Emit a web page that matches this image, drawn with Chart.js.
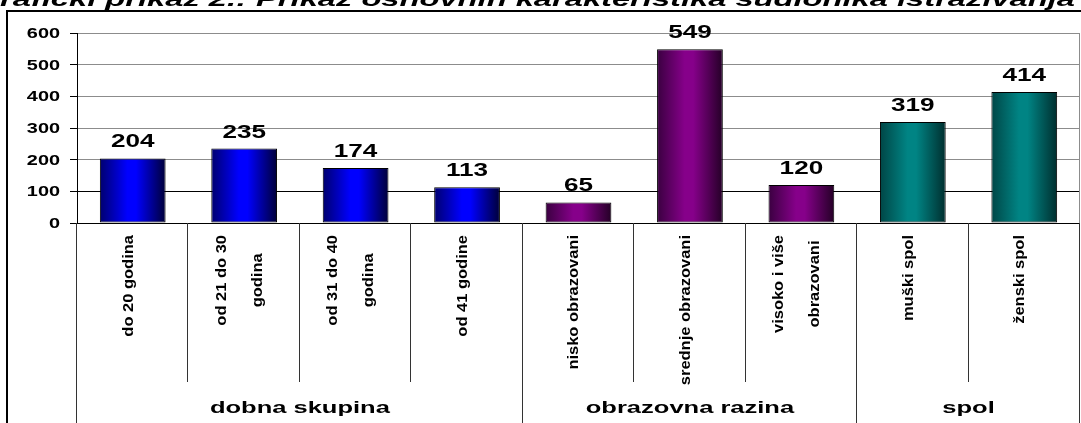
<!DOCTYPE html>
<html>
<head>
<meta charset="utf-8">
<script src="https://cdn.jsdelivr.net/npm/chart.js@4/dist/chart.umd.min.js"></script>
<style>
  html, body { margin: 0; padding: 0; background: #fff; overflow: hidden; }
  canvas { display: block; }
</style>
</head>
<body>
<canvas id="chart" width="1081" height="423"></canvas>
<script>
// data
const categories = [
    ['do 20 godina'],
    ['od 21 do 30', 'godina'],
    ['od 31 do 40', 'godina'],
    ['od 41 godine'],
    ['nisko obrazovani'],
    ['srednje obrazovani'],
    ['visoko i više', 'obrazovani'],
    ['muški spol'],
    ['ženski spol']
];
const values = [204, 235, 174, 113, 65, 549, 120, 319, 414];
const groups = ['dobna skupina', 'obrazovna razina', 'spol'];
const groupSizes = [4, 3, 2];
const yMin = 0;
const yMax = 600;
const yStep = 100;
const titleText = 'Grafički prikaz 2.: Prikaz osnovnih karakteristika sudionika istraživanja';

// gradient stops per group (dark edge, bright middle, darker edge)
const groupColors = [
    ['#00006e', '#0000ff', '#000038'],
    ['#3a0040', '#86008a', '#240026'],
    ['#004646', '#008484', '#002e2e']
];

const FONT = "'Liberation Sans', Arial, sans-serif";
const BAR_PCT = 0.59;

function groupOf(i) {
    let acc = 0;
    for (let g = 0; g < groupSizes.length; g++) {
        acc += groupSizes[g];
        if (i < acc) return g;
    }
    return groupSizes.length - 1;
}

function barFill(ctx) {
    const chart = ctx.chart;
    const i = ctx.dataIndex;
    const xs = chart.scales && chart.scales.x;
    if (i === undefined || !xs || !chart.chartArea) return '#0000ff';
    const cols = groupColors[groupOf(i)];
    const cx = xs.getPixelForValue(i);
    const w = xs.width / categories.length * BAR_PCT;
    const g = chart.ctx.createLinearGradient(cx - w / 2, 0, cx + w / 2, 0);
    g.addColorStop(0, cols[0]);
    g.addColorStop(0.42, cols[1]);
    g.addColorStop(0.55, cols[1]);
    g.addColorStop(1, cols[2]);
    return g;
}

// wide, squat text like the original export
function wideText(c, text, x, y, sx) {
    c.save();
    c.translate(x, y);
    c.scale(sx, 1);
    c.fillText(text, 0, 0);
    c.restore();
}

// frame + title, drawn under everything
const framePlugin = {
    id: 'frame',
    beforeDraw(chart) {
        const c = chart.ctx;
        c.save();
        c.strokeStyle = '#000';
        c.lineWidth = 2;
        c.beginPath();
        c.moveTo(7, chart.height + 2);
        c.lineTo(7, 11);
        c.lineTo(chart.width + 2, 11);
        c.stroke();

        // title is cut off by the top of the picture
        c.font = 'italic bold 20px ' + FONT;
        c.fillStyle = '#000';
        c.textBaseline = 'alphabetic';
        const first = c.measureText(titleText.charAt(0)).width;
        const rest = c.measureText(titleText.slice(1)).width;
        const sx = 1075 / rest;
        c.translate(-first * sx, 6);
        c.scale(sx, 1);
        c.fillText(titleText, 0, 0);
        c.restore();
    }
};

// tick labels, value labels, category labels, group labels and dividers
const labelPlugin = {
    id: 'labels',
    afterDraw(chart) {
        const c = chart.ctx;
        const xs = chart.scales.x;
        const ys = chart.scales.y;
        const area = chart.chartArea;
        const meta = chart.getDatasetMeta(0);
        const n = categories.length;
        const catW = xs.width / n;

        c.save();

        // right border of plot
        c.strokeStyle = '#8c8c8c';
        c.lineWidth = 1;
        c.beginPath();
        c.moveTo(Math.round(area.right) - 0.5, area.top);
        c.lineTo(Math.round(area.right) - 0.5, area.bottom);
        c.stroke();

        // dividers under the axis
        c.strokeStyle = '#333';
        let bounds = [0];
        let acc = 0;
        groupSizes.forEach(s => { acc += s; bounds.push(acc); });
        for (let k = 0; k <= n; k++) {
            const x = Math.round(area.left + k * catW) - 0.5;
            const isGroup = bounds.indexOf(k) >= 0;
            c.beginPath();
            c.moveTo(x, area.bottom);
            c.lineTo(x, isGroup ? chart.height : 382);
            c.stroke();
        }

        c.fillStyle = '#000';

        // y tick labels
        c.font = 'bold 14px ' + FONT;
        c.textAlign = 'right';
        c.textBaseline = 'middle';
        ys.ticks.forEach(t => {
            const y = ys.getPixelForValue(t.value) + 1;
            c.save();
            c.translate(60, y);
            c.scale(1.42, 1);
            c.fillText(String(t.value), 0, 0);
            c.restore();
        });

        // value labels
        c.font = 'bold 18px ' + FONT;
        c.textAlign = 'center';
        c.textBaseline = 'alphabetic';
        meta.data.forEach((bar, i) => {
            wideText(c, String(values[i]), bar.x, bar.y - 11, 1.45);
        });

        // category labels, rotated
        c.font = 'bold 16px ' + FONT;
        c.textBaseline = 'middle';
        categories.forEach((lines, i) => {
            const cx = xs.getPixelForValue(i) - 4;
            let maxW = 0;
            lines.forEach(t => { maxW = Math.max(maxW, c.measureText(t).width); });
            lines.forEach((t, j) => {
                const off = (j - (lines.length - 1) / 2) * 36;
                c.save();
                c.translate(cx + off, 235);
                c.rotate(-Math.PI / 2);
                c.scale(1.03, 0.88);
                c.textAlign = 'center';
                c.fillText(t, -maxW / 2, 0);
                c.restore();
            });
        });

        // group labels
        c.font = 'bold 17px ' + FONT;
        c.textAlign = 'center';
        c.textBaseline = 'alphabetic';
        groups.forEach((g, k) => {
            const x0 = area.left + bounds[k] * catW;
            const x1 = area.left + bounds[k + 1] * catW;
            wideText(c, g, (x0 + x1) / 2, 413, 1.5);
        });

        c.restore();
    }
};

new Chart(document.getElementById('chart'), {
    type: 'bar',
    data: {
        labels: categories,
        datasets: [{
            data: values,
            backgroundColor: barFill,
            borderColor: '#000',
            borderWidth: 1,
            borderSkipped: false,
            categoryPercentage: 1,
            barPercentage: BAR_PCT
        }]
    },
    options: {
        responsive: false,
        animation: false,
        devicePixelRatio: 1,
        layout: { padding: { top: 33, right: 1, left: 0, bottom: 0 } },
        plugins: {
            legend: { display: false },
            tooltip: { enabled: false },
            title: { display: false }
        },
        scales: {
            x: {
                grid: { display: false },
                border: { display: false },
                ticks: { display: false },
                afterFit(scale) { scale.height = 200; }
            },
            y: {
                min: yMin,
                max: yMax,
                ticks: { stepSize: yStep, display: false },
                grid: {
                    color: ctx => (ctx.tick && ctx.tick.value <= 100) ? '#000' : '#8c8c8c',
                    tickColor: '#000',
                    tickLength: 7,
                    lineWidth: 1
                },
                border: { display: true, color: '#000', width: 1 },
                afterFit(scale) { scale.width = 77; }
            }
        }
    },
    plugins: [framePlugin, labelPlugin]
});
</script>
</body>
</html>
